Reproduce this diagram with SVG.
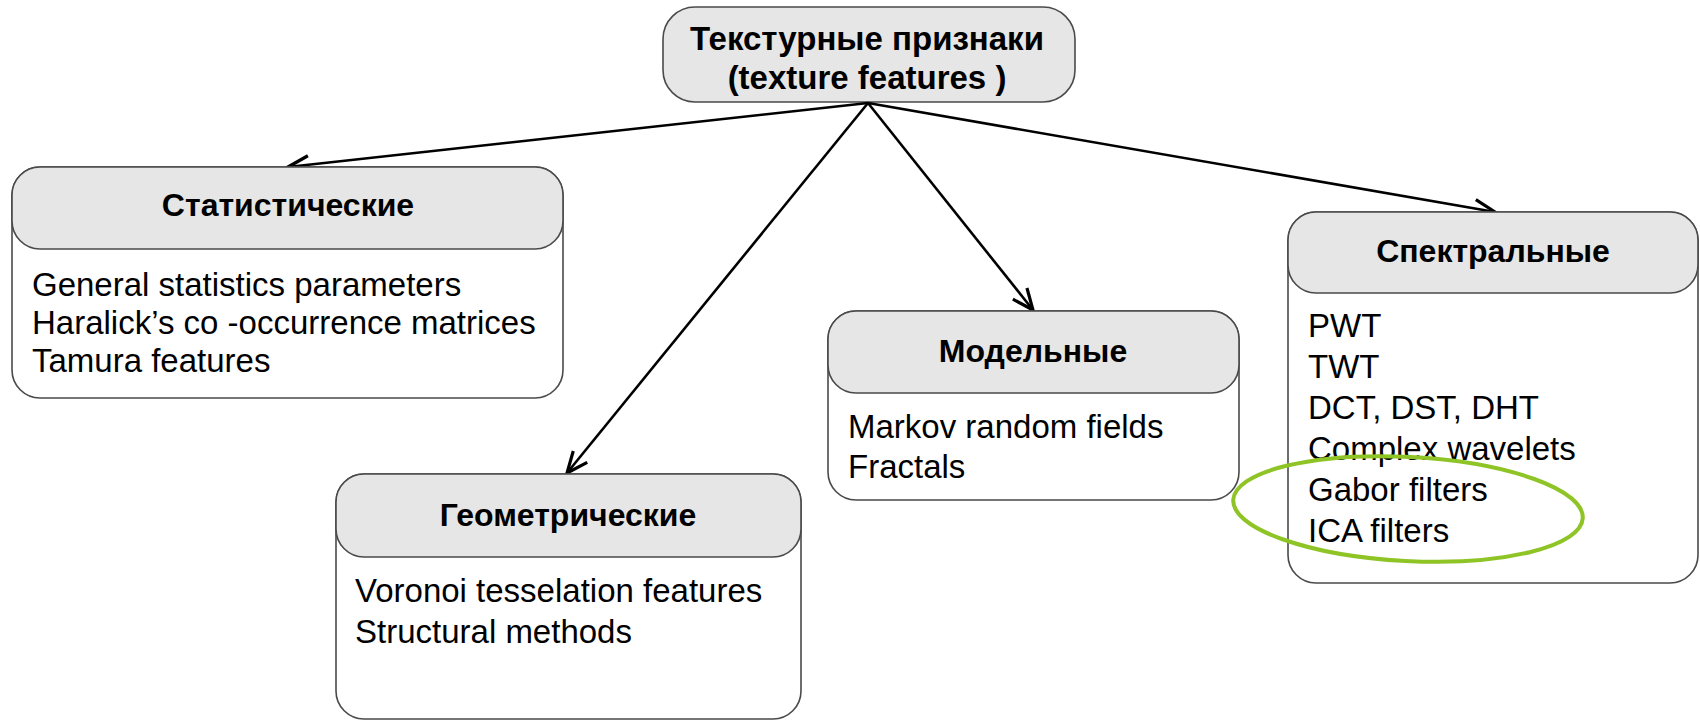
<svg xmlns="http://www.w3.org/2000/svg" width="1700" height="721" viewBox="0 0 1700 721">
<style>
.box{fill:#ffffff;stroke:#4a4a4a;stroke-width:1.6}
.hdr{fill:#e6e6e6;stroke:#4a4a4a;stroke-width:1.6}
.t{font-family:"Liberation Sans",Arial,sans-serif;fill:#000}
.h{font-size:32px;font-weight:bold;text-anchor:middle}
.b{font-size:33px}
.edge{stroke:#000;stroke-width:2.6;fill:none}
</style>
<defs>
<marker id="arr" markerUnits="userSpaceOnUse" markerWidth="26" markerHeight="26" viewBox="0 0 26 26" refX="24" refY="13" orient="auto">
<path d="M3,4 L24,13 L3,22" fill="none" stroke="#000" stroke-width="3.2"/>
</marker>
</defs>
<rect width="1700" height="721" fill="#fff"/>
<g id="root">
<rect class="hdr" x="663" y="7" width="412" height="95" rx="32"/>
<text class="t h" x="867" y="50" style="font-size:33px">Текстурные признаки</text>
<text class="t h" x="867" y="89" style="font-size:33px">(texture features )</text>
</g>
<g id="connectors">
<line class="edge" x1="868" y1="103" x2="288" y2="167" marker-end="url(#arr)"/>
<line class="edge" x1="868" y1="103" x2="567" y2="473" marker-end="url(#arr)"/>
<line class="edge" x1="868" y1="103" x2="1033" y2="310" marker-end="url(#arr)"/>
<line class="edge" x1="868" y1="103" x2="1495" y2="212" marker-end="url(#arr)"/>
</g>
<g id="stat">
<rect class="box" x="12" y="167" width="551" height="231" rx="28"/>
<rect class="hdr" x="12" y="167" width="551" height="82" rx="28"/>
<text class="t h" x="288" y="216">Статистические</text>
<text class="t b" x="32" y="296">General statistics parameters</text>
<text class="t b" x="32" y="334">Haralick’s co -occurrence matrices</text>
<text class="t b" x="32" y="372">Tamura features</text>
</g>
<g id="geom">
<rect class="box" x="336" y="474" width="465" height="245" rx="28"/>
<rect class="hdr" x="336" y="474" width="465" height="83" rx="28"/>
<text class="t h" x="568" y="526">Геометрические</text>
<text class="t b" x="355" y="602">Voronoi tesselation features</text>
<text class="t b" x="355" y="643">Structural methods</text>
</g>
<g id="model">
<rect class="box" x="828" y="311" width="411" height="189" rx="28"/>
<rect class="hdr" x="828" y="311" width="411" height="82" rx="28"/>
<text class="t h" x="1033" y="362">Модельные</text>
<text class="t b" x="848" y="438">Markov random fields</text>
<text class="t b" x="848" y="478">Fractals</text>
</g>
<g id="spec">
<rect class="box" x="1288" y="212" width="410" height="371" rx="28"/>
<rect class="hdr" x="1288" y="212" width="410" height="81" rx="28"/>
<text class="t h" x="1493" y="262">Спектральные</text>
<text class="t b" x="1308" y="337">PWT</text>
<text class="t b" x="1308" y="378">TWT</text>
<text class="t b" x="1308" y="419">DCT, DST, DHT</text>
<text class="t b" x="1308" y="460">Complex wavelets</text>
<text class="t b" x="1308" y="501">Gabor filters</text>
<text class="t b" x="1308" y="542">ICA filters</text>
</g>
<g id="highlight">
<ellipse cx="1408" cy="509" rx="175" ry="52" transform="rotate(3 1408 509)" fill="none" stroke="#8fc426" stroke-width="4"/>
</g>
</svg>
